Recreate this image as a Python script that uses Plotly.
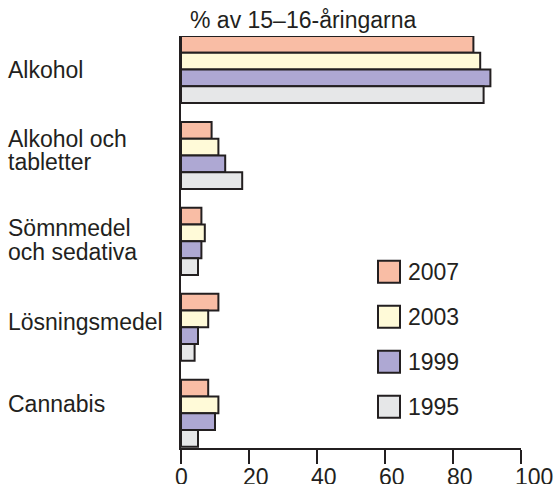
import plotly.graph_objects as go

categories = ["Alkohol", "Alkohol och tabletter", "Sömnmedel och sedativa",
              "Lösningsmedel", "Cannabis"]
years = ["2007", "2003", "1999", "1995"]
values_2007 = [86, 9, 6, 11, 8]
values_2003 = [88, 11, 7, 8, 11]
values_1999 = [91, 13, 6, 5, 10]
values_1995 = [89, 18, 5, 4, 5]
x_ticks = [0, 20, 40, 60, 80, 100]
axis_title = "% av 15–16-åringarna"

series = [values_2007, values_2003, values_1999, values_1995]
colors = ["#F9BDA5", "#FFFAD8", "#AEA8D3", "#E6E7E8"]
INK = "#231F20"
FONT = "Liberation Sans, Arial, sans-serif"

# plot area in pixels (555 x 484 page)
L, R, T, B = 181, 521, 36, 448


def px_x(x):
    return (x - L) / (R - L)


def px_y(y):
    return (B - y) / (B - T)


fig = go.Figure()
for name, vals, color in zip(years, series, colors):
    fig.add_trace(
        go.Bar(
            y=categories,
            x=vals,
            name=name,
            orientation="h",
            marker=dict(color=color, line=dict(color=INK, width=2)),
            showlegend=False,
        )
    )

# category labels, left aligned, split into lines (text, pixel y of line centre)
label_lines = [
    ("Alkohol", 70),
    ("Alkohol och", 139),
    ("tabletter", 162),
    ("Sömnmedel", 228),
    ("och sedativa", 252),
    ("Lösningsmedel", 322),
    ("Cannabis", 404),
]
annotations = []
for text, y in label_lines:
    annotations.append(dict(
        text=text, xref="paper", yref="paper", x=px_x(6), y=px_y(y),
        xanchor="left", yanchor="middle", showarrow=False,
        font=dict(size=23, color=INK, family=FONT),
    ))

annotations.append(dict(
    text=axis_title, xref="paper", yref="paper", x=px_x(188), y=px_y(20),
    xanchor="left", yanchor="middle", showarrow=False,
    font=dict(size=23, color=INK, family=FONT),
))

# x tick labels: in the original they start just left of each tick
for t in x_ticks:
    annotations.append(dict(
        text=str(t), xref="x", yref="paper", x=t, y=0,
        xanchor="left", yanchor="top", xshift=-8, yshift=-13.5,
        showarrow=False, font=dict(size=23, color=INK, family=FONT),
    ))

# hand-drawn legend with large square swatches
shapes = []
for i, (name, color) in enumerate(zip(years, colors)):
    yc = 271.7 + 45 * i
    shapes.append(dict(
        type="rect", xref="paper", yref="paper",
        x0=px_x(378), x1=px_x(400), y0=px_y(yc + 11), y1=px_y(yc - 11),
        fillcolor=color, line=dict(color=INK, width=2),
    ))
    annotations.append(dict(
        text=name, xref="paper", yref="paper", x=px_x(406), y=px_y(yc),
        xanchor="left", yanchor="middle", showarrow=False,
        font=dict(size=23, color=INK, family=FONT),
    ))

fig.update_layout(
    width=555,
    height=484,
    margin=dict(l=L, r=555 - R, t=T, b=484 - B, pad=0, autoexpand=False),
    plot_bgcolor="white",
    paper_bgcolor="white",
    barmode="group",
    bargap=0.219,
    bargroupgap=0,
    showlegend=False,
    annotations=annotations,
    shapes=shapes,
    font=dict(family=FONT, color=INK),
    xaxis=dict(
        range=[0, 100],
        tickvals=x_ticks,
        showticklabels=False,
        ticks="outside",
        ticklen=14,
        tickwidth=1.5,
        tickcolor=INK,
        showline=True,
        linecolor=INK,
        linewidth=1.5,
        showgrid=False,
        zeroline=False,
        automargin=False,
    ),
    yaxis=dict(
        categoryorder="array",
        categoryarray=categories,
        range=[4.405, -0.39],
        showticklabels=False,
        ticks="",
        showline=True,
        linecolor=INK,
        linewidth=1.5,
        showgrid=False,
        zeroline=False,
        automargin=False,
    ),
)

# drop the default page margin so the figure sits at the window's corner
fig.write_html(
    "out.html",
    config={"displayModeBar": False},
    post_script="document.body.style.margin='0';document.body.style.overflow='hidden';",
)
